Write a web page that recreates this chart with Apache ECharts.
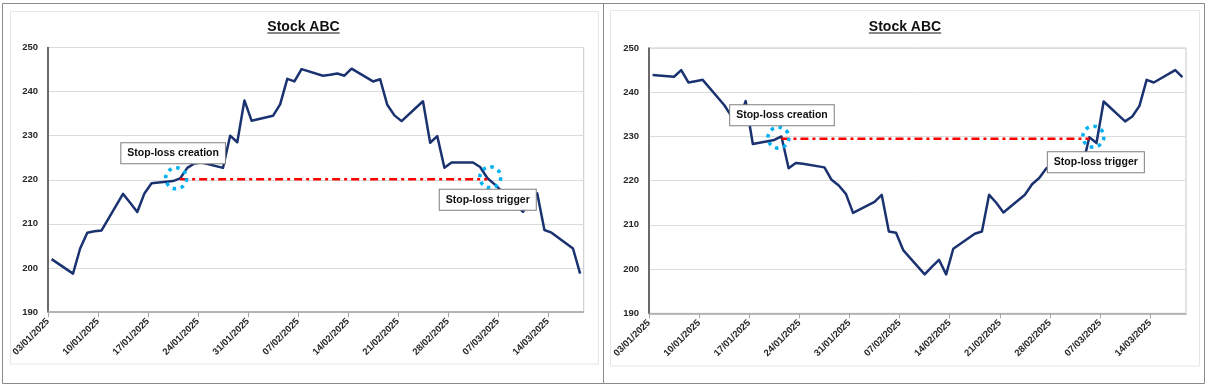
<!DOCTYPE html>
<html>
<head>
<meta charset="utf-8">
<script src="https://cdn.jsdelivr.net/npm/echarts@6/dist/echarts.min.js"></script>
<style>html,body{margin:0;padding:0;background:#fff}#c{width:1208px;height:386px}</style>
</head>
<body>
<div id="c"></div>
<script>
// ---------- DATA ----------
const chartTitle = 'Stock ABC';
const dates = [
  '03/01/2025','06/01/2025','07/01/2025','08/01/2025','09/01/2025','10/01/2025',
  '13/01/2025','14/01/2025','15/01/2025','16/01/2025','17/01/2025',
  '20/01/2025','21/01/2025','22/01/2025','23/01/2025','24/01/2025',
  '27/01/2025','28/01/2025','29/01/2025','30/01/2025','31/01/2025',
  '03/02/2025','04/02/2025','05/02/2025','06/02/2025','07/02/2025',
  '10/02/2025','11/02/2025','12/02/2025','13/02/2025','14/02/2025',
  '17/02/2025','18/02/2025','19/02/2025','20/02/2025','21/02/2025',
  '24/02/2025','25/02/2025','26/02/2025','27/02/2025','28/02/2025',
  '03/03/2025','04/03/2025','05/03/2025','06/03/2025','07/03/2025',
  '10/03/2025','11/03/2025','12/03/2025','13/03/2025','14/03/2025',
  '17/03/2025','18/03/2025'
];
const leftValues = [
  202.0,198.7,204.4,208.0,208.3,208.5,
  216.8,214.8,212.7,216.9,219.2,
  219.7,220.3,222.7,223.7,223.9,
  222.7,230.0,228.5,238.0,233.4,
  234.5,237.1,242.9,242.3,245.1,
  243.6,243.8,244.1,243.6,245.2,
  242.3,242.8,237.0,234.6,233.3,
  237.8,228.4,229.9,222.7,223.9,
  223.9,222.9,220.4,219.0,217.4,
  212.7,215.8,216.9,208.6,208.0,
  204.4,198.7
];
const rightValues = [
  243.9,243.5,245.0,242.2,242.5,242.8,
  237.1,234.6,233.3,238.0,228.3,
  229.2,230.0,222.8,224.0,223.8,
  223.0,220.2,218.9,217.0,212.7,
  215.2,216.8,208.5,208.2,204.3,
  198.8,200.5,202.1,198.8,204.6,
  208.0,208.5,216.8,215.0,212.8,
  216.8,219.2,220.6,222.8,223.6,
  223.8,223.0,229.8,228.5,237.9,
  233.4,234.5,236.9,242.8,242.2,
  245.0,243.4
];
const tickLabels = ['03/01/2025','10/01/2025','17/01/2025','24/01/2025','31/01/2025','07/02/2025',
  '14/02/2025','21/02/2025','28/02/2025','07/03/2025','14/03/2025'];
const yMin = 190, yMax = 250, yStep = 10;
const eventLabels = ['Stop-loss creation','Stop-loss trigger'];
const leftEventDates = ['21/01/2025','05/03/2025'];
const leftStopPrice = 220.1;
const rightEventDates = ['21/01/2025','05/03/2025'];
const rightStopPrice = 229.5;

// ---------- HELPERS ----------
const DAY = 86400000;
function parseDate(s){const p=s.split('/').map(Number);return Date.UTC(p[2],p[1]-1,p[0]);}
const t0 = parseDate(tickLabels[0]);
const xOf = s => (parseDate(s)-t0)/DAY + 0.5;
const tickValues = tickLabels.map(s => (parseDate(s)-t0)/DAY);
const FONT = '"Liberation Sans", Arial, sans-serif';
const titleFont = 'bold 14px "Liberation Sans", Arial, sans-serif';
const ctx = document.createElement('canvas').getContext('2d');
ctx.font = titleFont;
const titleW = ctx.measureText(chartTitle).width;

const panels = [
  {grid:{left:48, top:47.5, width:535.7, height:264.5}, values:leftValues, events:leftEventDates, stop:leftStopPrice,
   circleOff:[[-4,-1],[3,-2]], labelOff:[[-3,-25],[-2.5,22.5]], titleX:303.5},
  {grid:{left:649, top:48, width:537, height:265.3}, values:rightValues, events:rightEventDates, stop:rightStopPrice,
   circleOff:[[-3,-1],[4,-2]], labelOff:[[3.5,-22.5],[2.5,25.5]], titleX:905}
];

const grids=[], xAxes=[], yAxes=[], series=[], graphics=[];
panels.forEach((p,gi)=>{
  grids.push(Object.assign({show:true, borderColor:'#C8C8C8', borderWidth:1, backgroundColor:'rgba(0,0,0,0)'}, p.grid));
  xAxes.push({type:'value', gridIndex:gi, min:0, max:75, interval:7,
    splitLine:{show:false},
    axisLine:{show:true, onZero:false, lineStyle:{color:'#A6A6A6', width:1.5}},
    axisTick:{show:true, length:5, customValues:tickValues, lineStyle:{color:'#A6A6A6', width:1}},
    axisLabel:{rotate:45, margin:8, fontSize:9.5, fontWeight:'bold', color:'#262626', fontFamily:FONT,
      customValues:tickValues,
      formatter:v=>{const i=tickValues.indexOf(Math.round(v));return i>=0?tickLabels[i]:'';}}
  });
  yAxes.push({type:'value', gridIndex:gi, min:yMin, max:yMax, interval:yStep,
    splitLine:{show:true, lineStyle:{color:'#DCDCDC', width:1}},
    axisLine:{show:true, lineStyle:{color:'#404040', width:1.5}},
    axisTick:{show:false},
    axisLabel:{margin:10, fontSize:9.5, fontWeight:'bold', color:'#262626', fontFamily:FONT}
  });
  series.push({type:'line', xAxisIndex:gi, yAxisIndex:gi, z:3, symbol:'none', silent:true,
    data:dates.map((d,i)=>[xOf(d), p.values[i]]),
    lineStyle:{color:'#1B3270', width:2.5, join:'round'}
  });
  series.push({type:'line', xAxisIndex:gi, yAxisIndex:gi, z:4, symbol:'none', silent:true,
    data:p.events.map(d=>[xOf(d), p.stop]),
    lineStyle:{color:'#FF0000', width:2.5, type:[8,4,3,4]}
  });
  series.push({type:'scatter', xAxisIndex:gi, yAxisIndex:gi, z:6, silent:true,
    symbol:'circle', symbolSize:21,
    itemStyle:{color:'rgba(0,0,0,0)', borderColor:'#00B0F0', borderWidth:3.5, borderType:[3.5,4.7], opacity:1},
    data:p.events.map((d,i)=>({
      value:[xOf(d), p.stop],
      symbolOffset:p.circleOff[i],
      label:{show:true, position:'inside', offset:p.labelOff[i], formatter:eventLabels[i],
        color:'#111111', fontWeight:'bold', fontSize:10.5, fontFamily:FONT, lineHeight:12,
        backgroundColor:'#ffffff', borderColor:'#7F7F7F', borderWidth:1, padding:[4,6,4,6]}
    }))
  });
  graphics.push({type:'text', x:p.titleX, y:20, z:10,
    style:{text:chartTitle, font:titleFont, fill:'#111111', align:'center', verticalAlign:'top'}});
  graphics.push({type:'line', z:10, shape:{x1:p.titleX-titleW/2, y1:33, x2:p.titleX+titleW/2, y2:33},
    style:{stroke:'#111111', lineWidth:1.2}});
});
// frames
graphics.push({type:'rect', z:0, shape:{x:2.5, y:3.5, width:601, height:380}, style:{fill:'none', stroke:'#8A8A8A', lineWidth:1}});
graphics.push({type:'rect', z:0, shape:{x:603.5, y:3.5, width:601, height:380}, style:{fill:'none', stroke:'#8A8A8A', lineWidth:1}});
graphics.push({type:'rect', z:0, shape:{x:10.5, y:11.5, width:588, height:352.5}, style:{fill:'none', stroke:'#E6E6E6', lineWidth:1}});
graphics.push({type:'rect', z:0, shape:{x:610.5, y:10.5, width:589, height:355.5}, style:{fill:'none', stroke:'#E6E6E6', lineWidth:1}});

const chart = echarts.init(document.getElementById('c'), null, {renderer:'canvas'});
chart.setOption({
  animation:false, backgroundColor:'#ffffff',
  grid:grids, xAxis:xAxes, yAxis:yAxes, series:series, graphic:graphics
});
</script>
</body>
</html>
